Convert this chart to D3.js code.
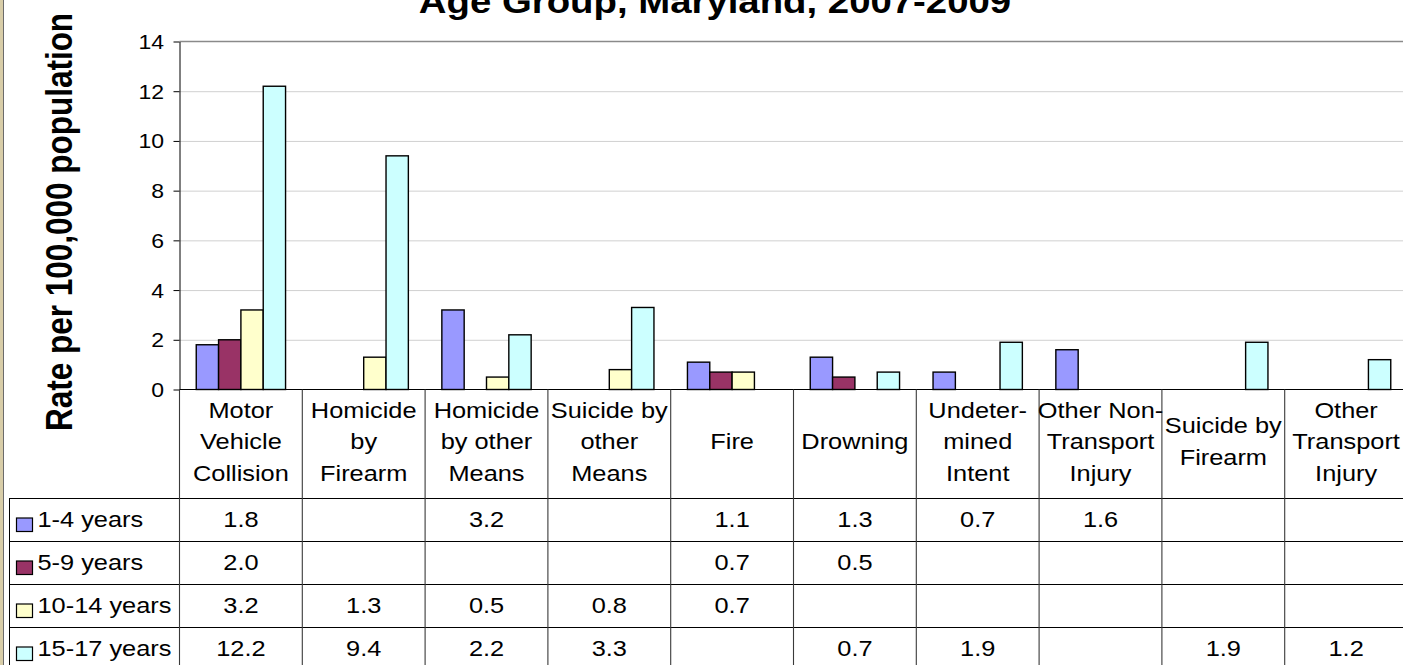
<!DOCTYPE html>
<html>
<head>
<meta charset="utf-8">
<script src="https://cdn.jsdelivr.net/npm/d3@7"></script>
<style>
  html, body { margin: 0; padding: 0; background: #fff; }
  svg { display: block; }
  text { font-family: "Liberation Sans", Arial, Helvetica, sans-serif; fill: #000; }
</style>
</head>
<body>
<svg id="chart" width="1403" height="665"></svg>
<script>
// Injury death rates per 100,000 by cause and age group
const categories = [
  "Motor Vehicle Collision", "Homicide by Firearm", "Homicide by other Means",
  "Suicide by other Means", "Fire", "Drowning", "Undetermined Intent",
  "Other Non-Transport Injury", "Suicide by Firearm", "Other Transport Injury"
];
const categoryLines = [
  ["Motor", "Vehicle", "Collision"],
  ["Homicide", "by", "Firearm"],
  ["Homicide", "by other", "Means"],
  ["Suicide by", "other", "Means"],
  ["Fire"],
  ["Drowning"],
  ["Undeter-", "mined", "Intent"],
  ["Other Non-", "Transport", "Injury"],
  ["Suicide by", "Firearm"],
  ["Other", "Transport", "Injury"]
];
const seriesNames = ["1-4 years", "5-9 years", "10-14 years", "15-17 years"];
const age1to4   = [1.8, null, 3.2, null, 1.1, 1.3, 0.7, 1.6, null, null];
const age5to9   = [2.0, null, null, null, 0.7, 0.5, null, null, null, null];
const age10to14 = [3.2, 1.3, 0.5, 0.8, 0.7, null, null, null, null, null];
const age15to17 = [12.2, 9.4, 2.2, 3.3, null, 0.7, 1.9, null, 1.9, 1.2];
const seriesColors = ["#9999FF", "#993366", "#FFFFCC", "#CCFFFF"];
const yTicks = [0, 2, 4, 6, 8, 10, 12, 14];
const titleText = "Age Group, Maryland, 2007-2009";
const yTitle = "Rate per 100,000 population";

const seriesValues = [age1to4, age5to9, age10to14, age15to17];

// Layout
const SX = 1.18;              // horizontal stretch applied to all lettering
const plotLeft = 179.5, plotRight = 1407.5, plotTop = 41.5, plotBottom = 389.5;
const headerBottom = 498, rowH = 43, tableLeft = 9.5;
const font = 21.5;

const svg = d3.select("#chart");

const x = d3.scaleBand().domain(categories).range([plotLeft, plotRight]);
const xs = d3.scaleBand().domain(seriesNames).range([0, x.bandwidth()])
  .paddingInner(0).paddingOuter(0.75);
const y = d3.scaleLinear().domain([0, 14]).range([plotBottom, plotTop]);

function stretchedText(parent, tx, ty, str, opts = {}) {
  const t = parent.append("text")
    .attr("transform", `translate(${tx},${ty}) scale(${SX},1)` + (opts.rotate ? ` rotate(${opts.rotate})` : ""))
    .attr("text-anchor", opts.anchor || "middle")
    .style("font-size", (opts.size || font) + "px")
    .style("font-weight", opts.bold ? "bold" : "normal")
    .text(str);
  return t;
}

// Left frame strip
svg.append("rect").attr("x", 0).attr("y", 0).attr("width", 3).attr("height", 665).attr("fill", "#d8cda8");
svg.append("line").attr("x1", 3.5).attr("x2", 3.5).attr("y1", 0).attr("y2", 665)
  .attr("stroke", "#6b6b6b").attr("stroke-width", 1);

// Title
stretchedText(svg, 715, 13, titleText, { size: 32.5, bold: true });

// Gridlines
const grid = svg.append("g").attr("transform", `translate(${plotLeft},0)`)
  .call(d3.axisLeft(y).tickValues(yTicks.filter(v => v > 0 && v < 14)).tickSize(-(plotRight - plotLeft)).tickFormat(""));
grid.select(".domain").remove();
grid.selectAll(".tick line").attr("stroke", "#d0d0d0").attr("stroke-width", 1);

// Plot top border
svg.append("line").attr("x1", plotLeft).attr("x2", plotRight).attr("y1", y(14)).attr("y2", y(14))
  .attr("stroke", "#8a8a8a").attr("stroke-width", 1.5);

// Y axis
const yAxis = svg.append("g").attr("transform", `translate(${plotLeft},0)`)
  .call(d3.axisLeft(y).tickValues(yTicks).tickSize(6).tickSizeOuter(0));
yAxis.select(".domain").attr("stroke", "#000").attr("stroke-width", 1);
yAxis.selectAll(".tick line").attr("stroke", "#000");
yAxis.selectAll(".tick text")
  .attr("x", 0).attr("dy", null)
  .attr("transform", `translate(-15.5,7) scale(${SX},1)`)
  .attr("text-anchor", "end")
  .style("font-size", "19.5px")
  .style("font-family", "'Liberation Sans', Arial, sans-serif")
  .attr("fill", "#000");

// Y title
stretchedText(svg, 72, 222, yTitle, { size: 31.5, bold: true, rotate: -90 });

// Bars
const barData = [];
categories.forEach((c, ci) => {
  seriesNames.forEach((s, si) => {
    const v = seriesValues[si][ci];
    if (v != null) barData.push({ c, s, si, v });
  });
});
svg.append("g").selectAll("rect").data(barData).join("rect")
  .attr("x", d => x(d.c) + xs(d.s))
  .attr("y", d => y(d.v))
  .attr("width", xs.bandwidth())
  .attr("height", d => y(0) - y(d.v))
  .attr("fill", d => seriesColors[d.si])
  .attr("stroke", "#000")
  .attr("stroke-width", 1.4);

// Zero line
svg.append("line").attr("x1", plotLeft).attr("x2", 1403).attr("y1", plotBottom).attr("y2", plotBottom)
  .attr("stroke", "#000").attr("stroke-width", 1.2);

// Data table
const table = svg.append("g");
const rowsBottom = headerBottom + rowH * seriesNames.length;
// horizontal lines
d3.range(seriesNames.length + 1).forEach(i => {
  const yy = headerBottom + i * rowH + 0.5;
  table.append("line").attr("x1", tableLeft).attr("x2", 1403).attr("y1", yy).attr("y2", yy)
    .attr("stroke", "#000").attr("stroke-width", 1);
});
// vertical lines
table.append("line").attr("x1", tableLeft).attr("x2", tableLeft).attr("y1", headerBottom).attr("y2", rowsBottom)
  .attr("stroke", "#000").attr("stroke-width", 1);
d3.range(categories.length + 1).forEach(k => {
  const xx = plotLeft + k * x.step();
  table.append("line").attr("x1", xx).attr("x2", xx).attr("y1", plotBottom).attr("y2", rowsBottom)
    .attr("stroke", "#3a3a3a").attr("stroke-width", 1.1);
});

// header category labels
const headerMid = 442, lineGap = 31.5;
categories.forEach((c, ci) => {
  const lines = categoryLines[ci];
  const cx = x(c) + x.bandwidth() / 2;
  lines.forEach((ln, li) => {
    const cy = headerMid + (li - (lines.length - 1) / 2) * lineGap;
    stretchedText(table, cx, cy + 7, ln);
  });
});

// rows: legend key, name, values
const fmt = d3.format(".1f");
seriesNames.forEach((s, si) => {
  const mid = headerBottom + si * rowH + rowH / 2;
  table.append("rect")
    .attr("x", 16.5).attr("y", mid - 1.5).attr("width", 16).attr("height", 13.5)
    .attr("fill", seriesColors[si]).attr("stroke", "#000").attr("stroke-width", 1.2);
  stretchedText(table, 37.5, mid + 7.5, s, { anchor: "start" });
  categories.forEach((c, ci) => {
    const v = seriesValues[si][ci];
    if (v != null) {
      stretchedText(table, x(c) + x.bandwidth() / 2, mid + 7.5, fmt(v));
    }
  });
});
</script>
</body>
</html>
